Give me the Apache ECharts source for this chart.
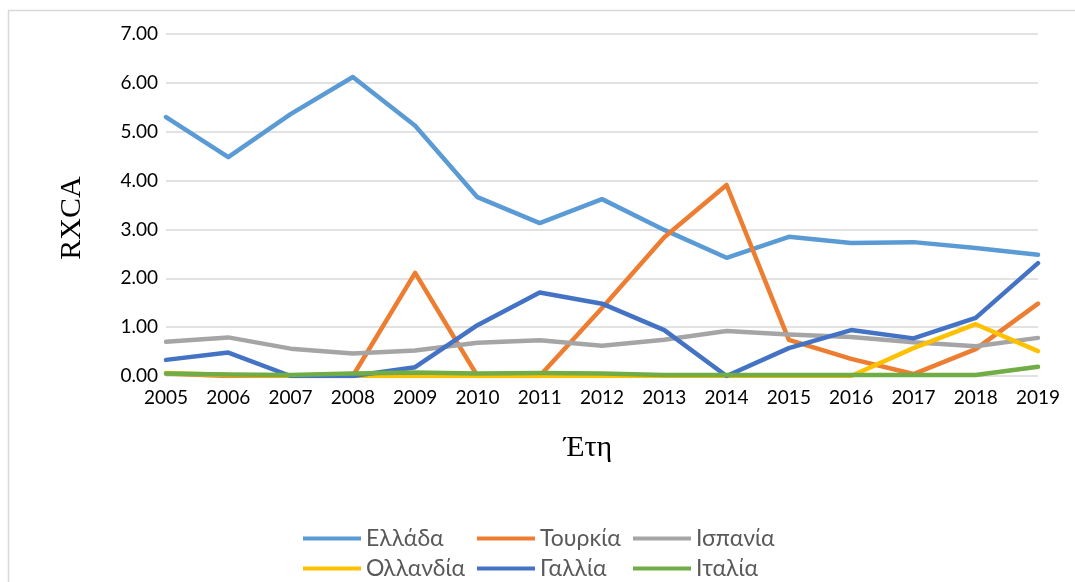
<!DOCTYPE html>
<html><head><meta charset="utf-8">
<script src="https://cdn.jsdelivr.net/npm/echarts@6/dist/echarts.min.js"></script>
<style>html,body{margin:0;padding:0;background:#fff}#c{width:1075px;height:582px}</style>
</head><body><div id="c"></div>
<script>
const years = ['2005','2006','2007','2008','2009','2010','2011','2012','2013','2014','2015','2016','2017','2018','2019'];
const seriesNames = ['Ελλάδα','Τουρκία','Ισπανία','Ολλανδία','Γαλλία','Ιταλία'];
const greece  = [5.30,4.48,5.36,6.12,5.12,3.66,3.13,3.62,2.99,2.42,2.85,2.72,2.74,2.62,2.48];
const turkey  = [0.05,0.00,0.00,0.00,2.11,0.00,0.00,1.39,2.84,3.91,0.74,0.35,0.04,0.55,1.48];
const spain   = [0.70,0.79,0.56,0.46,0.52,0.68,0.73,0.62,0.74,0.92,0.85,0.80,0.69,0.61,0.78];
const nether  = [0.06,0.02,0.01,0.00,0.00,0.00,0.00,0.00,0.00,0.00,0.00,0.00,0.57,1.06,0.51];
const france  = [0.33,0.48,0.00,0.00,0.18,1.04,1.71,1.48,0.94,0.00,0.57,0.94,0.77,1.19,2.31];
const italy   = [0.05,0.03,0.02,0.05,0.07,0.05,0.06,0.05,0.02,0.02,0.02,0.02,0.02,0.02,0.19];
const yTicks = ['0.00','1.00','2.00','3.00','4.00','5.00','6.00','7.00'];
const colors = ['#5B9BD5','#ED7D31','#A5A5A5','#FFC000','#4472C4','#70AD47'];
const values = [greece, turkey, spain, nether, france, italy];

const legendPos = [[298,522],[472,522],[628,522],[298,552],[472,552],[628,552]];
const chart = echarts.init(document.getElementById('c'));
chart.setOption({
  animation:false,
  color: colors,
  graphic:[{type:'rect',shape:{x:8.5,y:10.5,width:1080,height:600},style:{fill:'none',stroke:'#D9D9D9',lineWidth:1.5},silent:true,z:-1}],
  grid:{left:166,right:37,top:34,bottom:206,containLabel:false},
  legend: seriesNames.map((n,i)=>({
    data:[n], left:legendPos[i][0], top:legendPos[i][1], itemWidth:58, itemHeight:4,
    itemGap:8, icon:'rect',
    textStyle:{fontFamily:'Lato, "Noto Sans", sans-serif', fontSize:23, color:'#595959'}
  })),
  xAxis:{type:'category', data:years, boundaryGap:false,
    axisLine:{show:false}, axisTick:{show:false},
    axisLabel:{fontFamily:'Lato, "Noto Sans", sans-serif', fontSize:19, color:'#000', margin:12},
    name:'Έτη', nameLocation:'middle', nameGap:57,
    nameTextStyle:{fontFamily:'"Liberation Serif", serif', fontSize:30, color:'#000', padding:[0,28,0,0]}
  },
  yAxis:{type:'value', min:0, max:7, interval:1,
    axisLine:{show:false}, axisTick:{show:false},
    splitLine:{lineStyle:{color:'#D9D9D9', width:1.5}},
    axisLabel:{fontFamily:'Lato, "Noto Sans", sans-serif', fontSize:19, color:'#000', margin:8,
      formatter:(v)=>yTicks[Math.round(v)]},
    name:'RXCA', nameLocation:'middle', nameGap:79, nameRotate:90,
    nameTextStyle:{fontFamily:'"Liberation Serif", serif', fontSize:30, color:'#000', padding:[0,26,0,0]}
  },
  series: seriesNames.map((n,i)=>({
    name:n, type:'line', data:values[i], showSymbol:false, symbol:'none',
    lineStyle:{width:4.5, color:colors[i], join:'round', cap:'round'}
  }))
});
</script></body></html>
